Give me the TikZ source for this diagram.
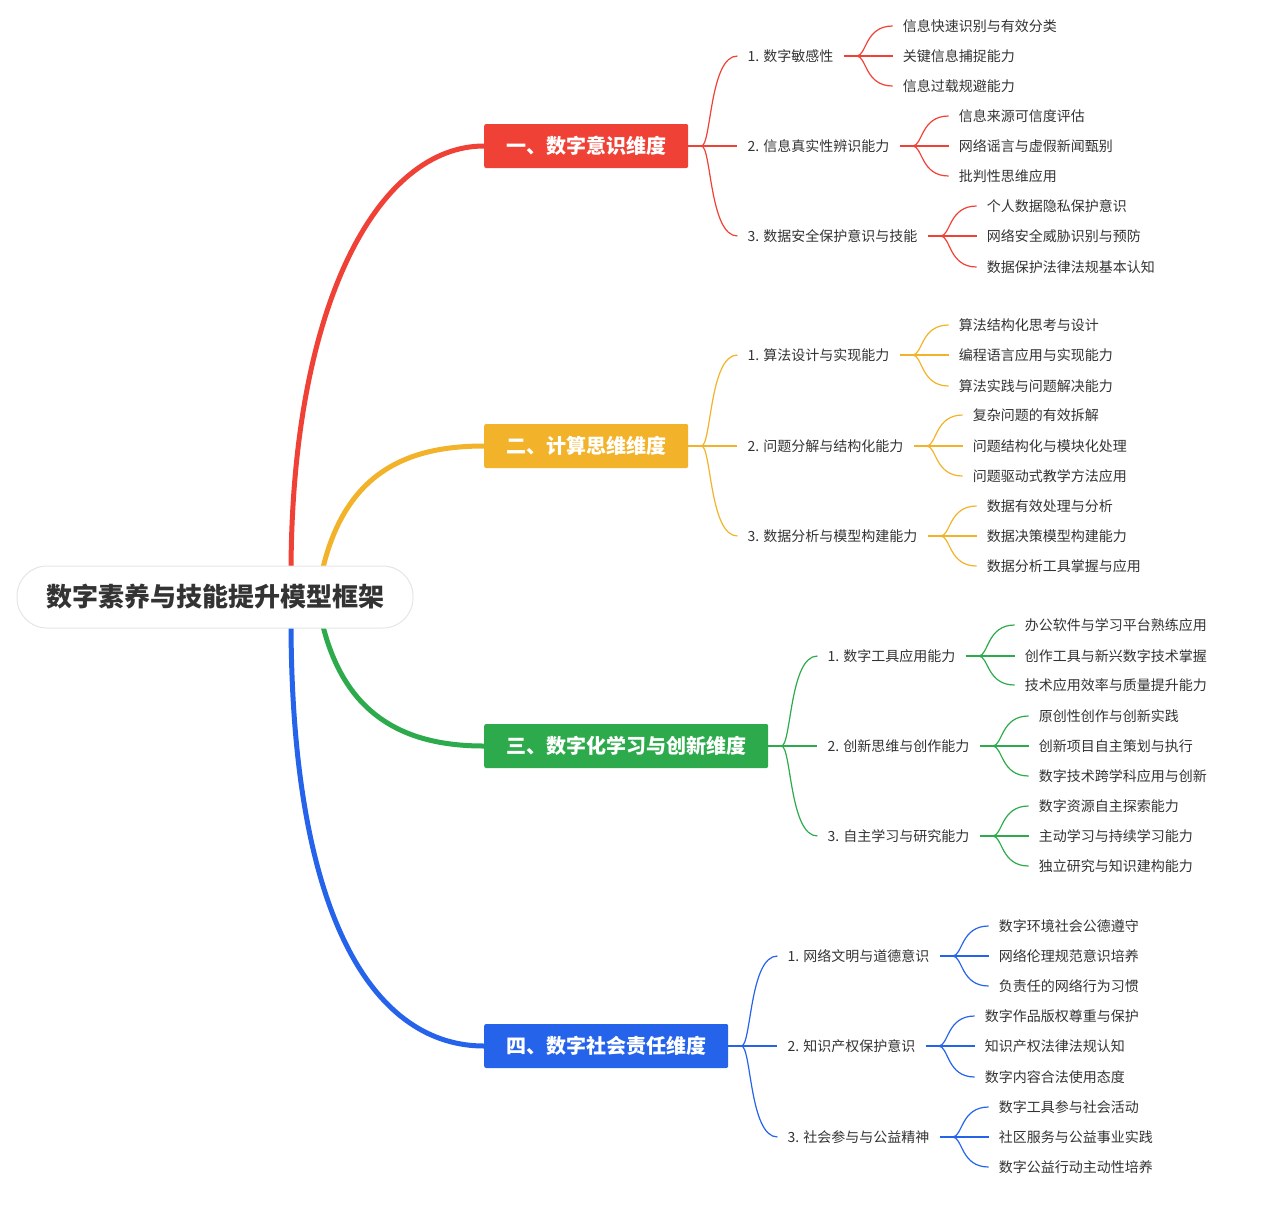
\documentclass[tikz,border=0pt]{standalone}
\usepackage{fontspec}
\setmainfont{Noto Sans CJK SC}
\usetikzlibrary{calc}
\definecolor{cR}{HTML}{EF4135}
\definecolor{cY}{HTML}{F2B32A}
\definecolor{cG}{HTML}{2DAA4B}
\definecolor{cB}{HTML}{2563EB}
\definecolor{txt}{HTML}{333333}
\tikzset{x=1pt,y=-1pt,
 lbl/.style={anchor=west,inner xsep=10pt,inner ysep=2pt,font=\fontsize{14}{16}\selectfont,text=txt},
 mbox/.style={anchor=west,rounded corners=2pt,minimum height=44pt,inner xsep=22pt,text=white,font=\fontsize{20}{24}\selectfont\bfseries},
 thinl/.style={line width=1.2pt},
 thickl/.style={line width=5pt}}
\newcommand\mmlink[3]{\draw[#1,thinl] (#2) .. controls ($(#2)+(10,0)$) and ($(#2 |- #3.west)+(8,0)$) .. (#3.west);}
\newcommand\mmgroup[9]{%
 \draw[#1,thinl] (#2.east) -- ++(13,0) coordinate (#3f);
 \coordinate (#3ya) at (0,#4);\coordinate (#3yb) at (0,#6);\coordinate (#3yc) at (0,#8);
 \node[lbl] (#3a) at ($(#3f |- #3ya)+(36,0)$) {#5};
 \node[lbl] (#3b) at ($(#3f |- #3yb)+(36,0)$) {#7};
 \node[lbl] (#3c) at ($(#3f |- #3yc)+(36,0)$) {#9};
 \mmlink{#1}{#3f}{#3a}\mmlink{#1}{#3f}{#3b}\mmlink{#1}{#3f}{#3c}}
\begin{document}
\begin{tikzpicture}
\useasboundingbox (0,0) rectangle (1269,1211);
\node[mbox,fill=cR] (m1) at (484,146) {一、数字意识维度};
\node[mbox,fill=cY] (m2) at (484,446) {二、计算思维维度};
\node[mbox,fill=cG] (m3) at (484,746) {三、数字化学习与创新维度};
\node[mbox,fill=cB] (m4) at (484,1046) {四、数字社会责任维度};
\coordinate (s1) at (291,575);\coordinate (s2) at (322,572);
\coordinate (s3) at (322,622);\coordinate (s4) at (291,620);
\draw[cR,thickl] (s1) .. controls (291,300) and (380,146) .. (m1.west);
\draw[cY,thickl] (s2) .. controls (345,470) and (410,446) .. (m2.west);
\draw[cG,thickl] (s3) .. controls (345,720) and (410,746) .. (m3.west);
\draw[cB,thickl] (s4) .. controls (291,930) and (380,1046) .. (m4.west);
\node[draw=gray!20,line width=1pt,fill=white,rounded corners=30pt,minimum width=396pt,minimum height=62pt,font=\fontsize{26}{30}\selectfont\bfseries,text=txt] (root) at (215,597) {数字素养与技能提升模型框架};
% red
\mmgroup{cR}{m1}{m1}{56}{1. 数字敏感性}{146}{2. 信息真实性辨识能力}{236}{3. 数据安全保护意识与技能}
\mmgroup{cR}{m1a}{r1}{26}{信息快速识别与有效分类}{56}{关键信息捕捉能力}{86}{信息过载规避能力}
\mmgroup{cR}{m1b}{r2}{116}{信息来源可信度评估}{146}{网络谣言与虚假新闻甄别}{176}{批判性思维应用}
\mmgroup{cR}{m1c}{r3}{206}{个人数据隐私保护意识}{236}{网络安全威胁识别与预防}{267}{数据保护法律法规基本认知}
% yellow
\mmgroup{cY}{m2}{m2}{355}{1. 算法设计与实现能力}{446}{2. 问题分解与结构化能力}{536}{3. 数据分析与模型构建能力}
\mmgroup{cY}{m2a}{y1}{325}{算法结构化思考与设计}{355}{编程语言应用与实现能力}{386}{算法实践与问题解决能力}
\mmgroup{cY}{m2b}{y2}{415}{复杂问题的有效拆解}{446}{问题结构化与模块化处理}{476}{问题驱动式教学方法应用}
\mmgroup{cY}{m2c}{y3}{506}{数据有效处理与分析}{536}{数据决策模型构建能力}{566}{数据分析工具掌握与应用}
% green
\mmgroup{cG}{m3}{m3}{656}{1. 数字工具应用能力}{746}{2. 创新思维与创作能力}{836}{3. 自主学习与研究能力}
\mmgroup{cG}{m3a}{g1}{625}{办公软件与学习平台熟练应用}{656}{创作工具与新兴数字技术掌握}{685}{技术应用效率与质量提升能力}
\mmgroup{cG}{m3b}{g2}{716}{原创性创作与创新实践}{746}{创新项目自主策划与执行}{776}{数字技术跨学科应用与创新}
\mmgroup{cG}{m3c}{g3}{806}{数字资源自主探索能力}{836}{主动学习与持续学习能力}{866}{独立研究与知识建构能力}
% blue
\mmgroup{cB}{m4}{m4}{956}{1. 网络文明与道德意识}{1046}{2. 知识产权保护意识}{1137}{3. 社会参与与公益精神}
\mmgroup{cB}{m4a}{b1}{926}{数字环境社会公德遵守}{956}{网络伦理规范意识培养}{986}{负责任的网络行为习惯}
\mmgroup{cB}{m4b}{b2}{1016}{数字作品版权尊重与保护}{1046}{知识产权法律法规认知}{1077}{数字内容合法使用态度}
\mmgroup{cB}{m4c}{b3}{1107}{数字工具参与社会活动}{1137}{社区服务与公益事业实践}{1167}{数字公益行动主动性培养}
\end{tikzpicture}
\end{document}
